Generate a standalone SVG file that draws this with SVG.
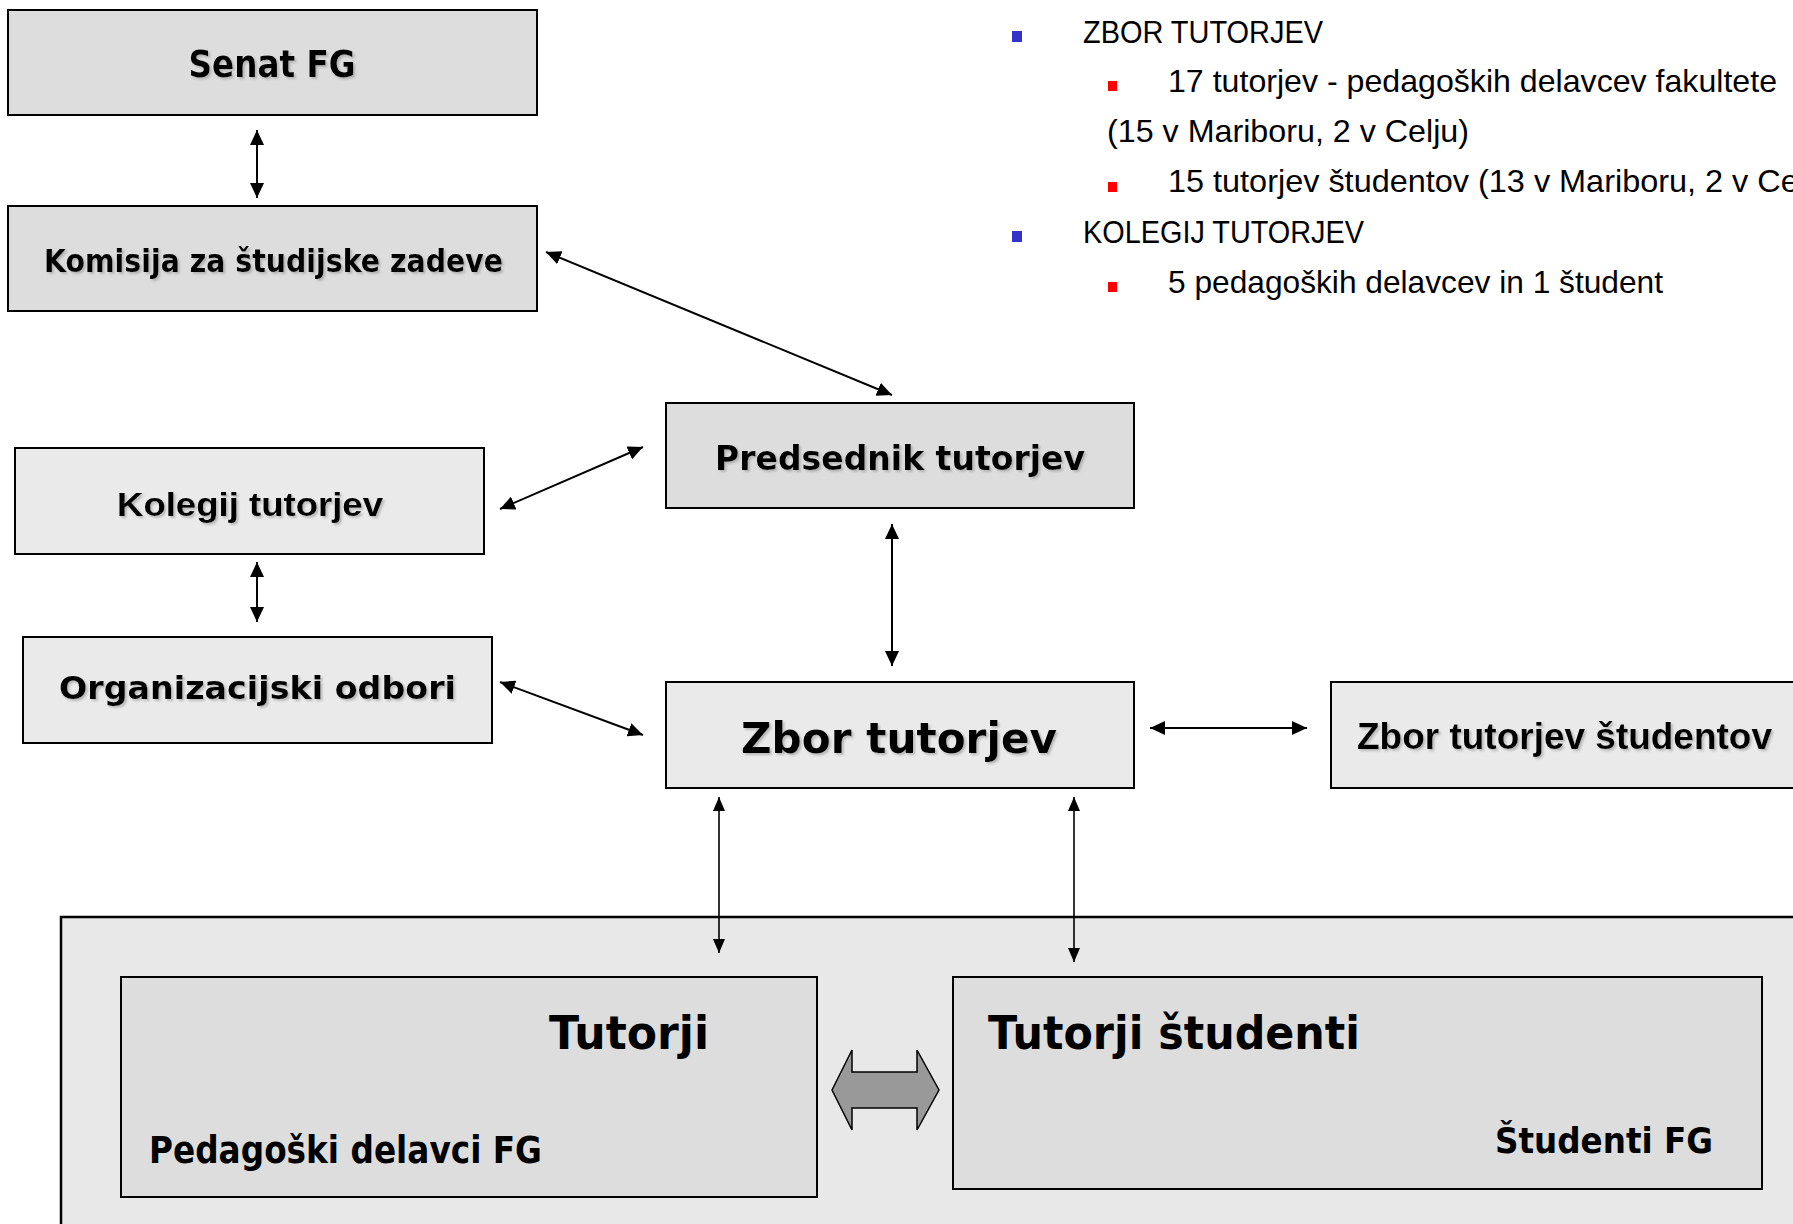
<svg xmlns="http://www.w3.org/2000/svg" width="1793" height="1224" viewBox="0 0 1793 1224">
<defs>
<style>
.box{stroke:#000;stroke-width:2}
.dark{fill:#dddddd}
.light{fill:#eaeaea}
.t{font-family:"DejaVu Sans",Verdana,sans-serif;font-weight:bold;fill:#000}
.ta{font-family:"Liberation Sans",Arial,sans-serif;font-weight:bold;fill:#000}
.sh{filter:url(#shadow)}
.list{font-family:"Liberation Sans",Arial,sans-serif;font-size:32px;fill:#000}
.con{stroke:#000;stroke-width:2;fill:none;marker-start:url(#ah);marker-end:url(#ah)}
.con2{stroke:#000;stroke-width:1.6;fill:none;marker-start:url(#ah2);marker-end:url(#ah2)}
</style>
<filter id="shadow" x="-5%" y="-20%" width="115%" height="150%">
<feDropShadow dx="2" dy="2" stdDeviation="1.2" flood-color="#999" flood-opacity="0.6"/>
</filter>
<marker id="ah" markerUnits="userSpaceOnUse" markerWidth="15" markerHeight="14" refX="15" refY="7" orient="auto-start-reverse">
<path d="M0,0 L15,7 L0,14 z" fill="#000"/>
</marker>
<marker id="ah2" markerUnits="userSpaceOnUse" markerWidth="14" markerHeight="12" refX="14" refY="6" orient="auto-start-reverse">
<path d="M0,0 L14,6 L0,12 z" fill="#000"/>
</marker>
</defs>
<rect width="1793" height="1224" fill="#fff"/>

<g id="container">
<rect x="61" y="917" width="1800" height="400" fill="#e8e8e8" stroke="#000" stroke-width="2.5"/>
</g>

<g id="senat">
<rect class="box dark" x="8" y="10" width="529" height="105"/>
<text class="t sh" x="272" y="77" font-size="37" text-anchor="middle" textLength="167" lengthAdjust="spacingAndGlyphs">Senat FG</text>
</g>

<g id="komisija">
<rect class="box dark" x="8" y="206" width="529" height="105"/>
<text class="t sh" x="273.5" y="272" font-size="32" text-anchor="middle" textLength="459" lengthAdjust="spacingAndGlyphs">Komisija za študijske zadeve</text>
</g>

<g id="predsednik">
<rect class="box dark" x="666" y="403" width="468" height="105"/>
<text class="t sh" x="900" y="470" font-size="34" text-anchor="middle" textLength="370" lengthAdjust="spacingAndGlyphs">Predsednik tutorjev</text>
</g>

<g id="kolegij">
<rect class="box light" x="15" y="448" width="469" height="106"/>
<text class="ta sh" x="250" y="516" font-size="34" text-anchor="middle" textLength="266" lengthAdjust="spacingAndGlyphs">Kolegij tutorjev</text>
</g>

<g id="organizacijski">
<rect class="box light" x="23" y="637" width="469" height="106"/>
<text class="t sh" x="257.5" y="699" font-size="32" text-anchor="middle" textLength="397" lengthAdjust="spacingAndGlyphs">Organizacijski odbori</text>
</g>

<g id="zbor">
<rect class="box light" x="666" y="682" width="468" height="106"/>
<text class="t sh" x="899" y="753" font-size="42" text-anchor="middle" textLength="316" lengthAdjust="spacingAndGlyphs">Zbor tutorjev</text>
</g>

<g id="zbor-studentov">
<rect class="box light" x="1331" y="682" width="500" height="106"/>
<text class="ta sh" x="1357" y="749" font-size="36" textLength="415" lengthAdjust="spacingAndGlyphs">Zbor tutorjev študentov</text>
</g>

<g id="tutorji">
<rect class="box dark" x="121" y="977" width="696" height="220"/>
<text class="t" x="549" y="1049" font-size="47" textLength="160" lengthAdjust="spacingAndGlyphs">Tutorji</text>
<text class="t" x="149" y="1163" font-size="37" textLength="393" lengthAdjust="spacingAndGlyphs">Pedagoški delavci FG</text>
</g>

<g id="tutorji-studenti">
<rect class="box dark" x="953" y="977" width="809" height="212"/>
<text class="t" x="988" y="1049" font-size="47" textLength="372" lengthAdjust="spacingAndGlyphs">Tutorji študenti</text>
<text class="t" x="1495" y="1153" font-size="36" textLength="218" lengthAdjust="spacingAndGlyphs">Študenti FG</text>
</g>

<g id="list">
<rect x="1012" y="31" width="10" height="11" fill="#3333cc"/>
<text class="list" x="1083" y="43" textLength="240" lengthAdjust="spacingAndGlyphs">ZBOR TUTORJEV</text>
<rect x="1108" y="81" width="9" height="10" fill="#ff0000"/>
<text class="list" x="1168" y="92" textLength="609" lengthAdjust="spacingAndGlyphs">17 tutorjev - pedagoških delavcev fakultete</text>
<text class="list" x="1107" y="142" textLength="362" lengthAdjust="spacingAndGlyphs">(15 v Mariboru, 2 v Celju)</text>
<rect x="1108" y="182" width="9" height="10" fill="#ff0000"/>
<text class="list" x="1168" y="192" textLength="674" lengthAdjust="spacingAndGlyphs">15 tutorjev študentov (13 v Mariboru, 2 v Celju)</text>
<rect x="1012" y="231" width="10" height="11" fill="#3333cc"/>
<text class="list" x="1083" y="243" textLength="281" lengthAdjust="spacingAndGlyphs">KOLEGIJ TUTORJEV</text>
<rect x="1108" y="282" width="9" height="10" fill="#ff0000"/>
<text class="list" x="1168" y="293" textLength="495" lengthAdjust="spacingAndGlyphs">5 pedagoških delavcev in 1 študent</text>
</g>

<g id="connectors">
<line class="con" x1="257" y1="130" x2="257" y2="198"/>
<line class="con" x1="546" y1="252" x2="892" y2="395"/>
<line class="con" x1="500" y1="509" x2="643" y2="447"/>
<line class="con" x1="257" y1="562" x2="257" y2="622"/>
<line class="con" x1="500" y1="682" x2="643" y2="735"/>
<line class="con" x1="892" y1="524" x2="892" y2="666"/>
<line class="con" x1="1150" y1="728" x2="1307" y2="728"/>
<line class="con2" x1="719" y1="797" x2="719" y2="953"/>
<line class="con2" x1="1074" y1="797" x2="1074" y2="962"/>
<path id="block-arrow" d="M832,1090 L852,1050 L852,1072 L917,1072 L917,1050 L939,1090 L917,1130 L917,1108 L852,1108 L852,1130 Z" fill="#999999" stroke="#000" stroke-width="1.5"/>
</g>
</svg>
